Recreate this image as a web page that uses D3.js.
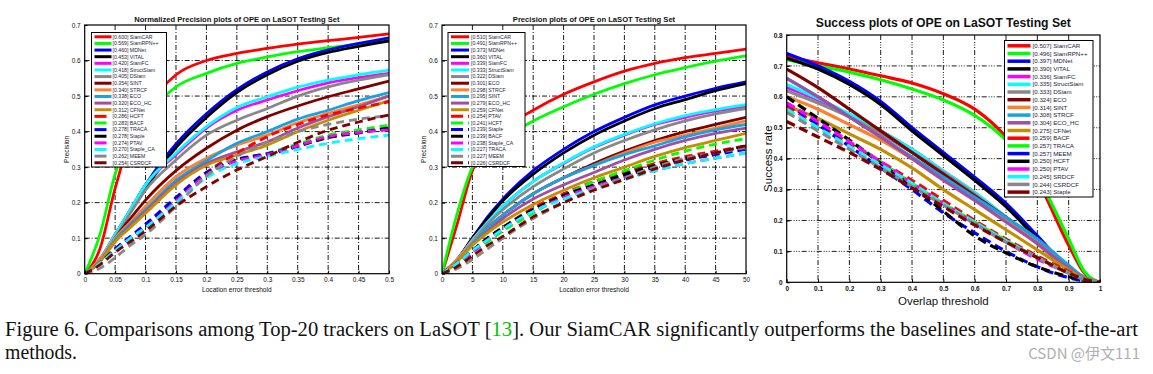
<!DOCTYPE html>
<html>
<head>
<meta charset="utf-8">
<script src="https://cdn.jsdelivr.net/npm/d3@7"></script>
<style>
  body { margin: 0; background: #fff; }
  svg { display: block; }
  text { font-family: "Liberation Sans", Arial, sans-serif; }
  text.serif { font-family: "Liberation Serif", "Times New Roman", serif; }
</style>
</head>
<body>
<svg width="1153" height="374"></svg>
<script>
// colours by rank: 12 solid, then 8 dashed reusing the first 8
const colors = ['#ff0000', '#00ff00', '#0000ff', '#000000', '#ff00ff', '#00ffff', '#888888', '#800000',
  '#ff7f2a', '#17a2e3', '#a14ea4', '#c28f00',
  '#ff0000', '#00ff00', '#0000ff', '#000000', '#ff00ff', '#00ffff', '#888888', '#800000']

// ---- normalized precision (left) ----
const normX = [0, 0.025, 0.05, 0.075, 0.1, 0.15, 0.2, 0.25, 0.3, 0.35, 0.4, 0.45, 0.5]
const normNames = ['SiamCAR', 'SiamRPN++', 'MDNet', 'VITAL', 'SiamFC', 'StructSiam', 'DSiam', 'SINT', 'STRCF', 'ECO',
  'ECO_HC', 'CFNet', 'HCFT', 'BACF', 'TRACA', 'Staple', 'PTAV', 'Staple_CA', 'MEEM', 'CSRDCF']
const normScores = ['0.600', '0.569', '0.460', '0.453', '0.420', '0.418', '0.405', '0.354', '0.340', '0.338',
  '0.320', '0.312', '0.286', '0.283', '0.278', '0.278', '0.274', '0.270', '0.262', '0.254']
const normValues = [
  [0, 0.07, 0.24, 0.38, 0.46, 0.56, 0.60, 0.62, 0.634, 0.646, 0.656, 0.665, 0.675],
  [0, 0.11, 0.28, 0.38, 0.44, 0.526, 0.564, 0.592, 0.61, 0.625, 0.636, 0.646, 0.658],
  [0, 0.04, 0.11, 0.18, 0.25, 0.365, 0.45, 0.518, 0.568, 0.605, 0.63, 0.648, 0.664],
  [0, 0.04, 0.105, 0.175, 0.24, 0.355, 0.44, 0.51, 0.56, 0.598, 0.623, 0.64, 0.655],
  [0, 0.04, 0.11, 0.18, 0.25, 0.335, 0.41, 0.46, 0.489, 0.515, 0.537, 0.552, 0.564],
  [0, 0.04, 0.11, 0.18, 0.25, 0.34, 0.414, 0.468, 0.498, 0.525, 0.545, 0.56, 0.573],
  [0, 0.035, 0.1, 0.17, 0.235, 0.32, 0.39, 0.432, 0.465, 0.5, 0.526, 0.545, 0.56],
  [0, 0.035, 0.1, 0.155, 0.207, 0.29, 0.353, 0.404, 0.442, 0.472, 0.498, 0.52, 0.542],
  [0, 0.04, 0.1, 0.145, 0.19, 0.273, 0.325, 0.362, 0.39, 0.425, 0.451, 0.475, 0.5],
  [0, 0.035, 0.095, 0.14, 0.18, 0.263, 0.318, 0.367, 0.4, 0.435, 0.46, 0.487, 0.51],
  [0, 0.035, 0.09, 0.135, 0.175, 0.255, 0.31, 0.343, 0.371, 0.41, 0.442, 0.47, 0.5],
  [0, 0.035, 0.09, 0.13, 0.17, 0.25, 0.305, 0.334, 0.362, 0.4, 0.432, 0.46, 0.487],
  [0, 0.03, 0.07, 0.1, 0.135, 0.21, 0.285, 0.339, 0.386, 0.42, 0.447, 0.466, 0.484],
  [0, 0.03, 0.067, 0.1, 0.13, 0.207, 0.282, 0.32, 0.339, 0.365, 0.39, 0.405, 0.418],
  [0, 0.03, 0.07, 0.105, 0.14, 0.215, 0.285, 0.322, 0.338, 0.36, 0.384, 0.398, 0.41],
  [0, 0.03, 0.067, 0.1, 0.13, 0.207, 0.28, 0.32, 0.335, 0.358, 0.383, 0.396, 0.41],
  [0, 0.03, 0.065, 0.1, 0.13, 0.205, 0.278, 0.317, 0.335, 0.36, 0.386, 0.398, 0.405],
  [0, 0.03, 0.065, 0.1, 0.13, 0.2, 0.27, 0.31, 0.33, 0.35, 0.367, 0.38, 0.39],
  [0, 0.015, 0.045, 0.08, 0.11, 0.19, 0.275, 0.33, 0.37, 0.4, 0.42, 0.435, 0.445],
  [0, 0.025, 0.06, 0.09, 0.12, 0.19, 0.245, 0.292, 0.33, 0.37, 0.404, 0.427, 0.447]
]

// ---- precision (middle) ----
const precX = [0, 2.5, 5, 7.5, 10, 15, 20, 25, 30, 35, 40, 45, 50]
const precNames = ['SiamCAR', 'SiamRPN++', 'MDNet', 'VITAL', 'SiamFC', 'StructSiam', 'DSiam', 'ECO', 'STRCF', 'SINT',
  'ECO_HC', 'CFNet', 'PTAV', 'HCFT', 'Staple', 'BACF', 'Staple_CA', 'TRACA', 'MEEM', 'CSRDCF']
const precScores = ['0.510', '0.491', '0.373', '0.360', '0.339', '0.333', '0.322', '0.301', '0.298', '0.295',
  '0.279', '0.259', '0.254', '0.241', '0.239', '0.239', '0.238', '0.227', '0.227', '0.226']
const precValues = [
  [0, 0.14, 0.29, 0.36, 0.405, 0.46, 0.505, 0.54, 0.57, 0.592, 0.608, 0.62, 0.632],
  [0, 0.17, 0.3, 0.35, 0.38, 0.43, 0.47, 0.505, 0.535, 0.56, 0.58, 0.598, 0.613],
  [0, 0.04, 0.1, 0.16, 0.21, 0.29, 0.35, 0.4, 0.44, 0.475, 0.5, 0.522, 0.54],
  [0, 0.04, 0.1, 0.155, 0.205, 0.28, 0.34, 0.39, 0.43, 0.465, 0.49, 0.515, 0.535],
  [0, 0.04, 0.095, 0.145, 0.19, 0.26, 0.31, 0.355, 0.39, 0.42, 0.44, 0.458, 0.47],
  [0, 0.04, 0.095, 0.145, 0.19, 0.26, 0.312, 0.357, 0.392, 0.422, 0.445, 0.462, 0.476],
  [0, 0.035, 0.09, 0.14, 0.18, 0.245, 0.295, 0.34, 0.375, 0.405, 0.43, 0.45, 0.465],
  [0, 0.035, 0.085, 0.13, 0.165, 0.225, 0.27, 0.31, 0.345, 0.375, 0.4, 0.42, 0.44],
  [0, 0.04, 0.09, 0.13, 0.165, 0.225, 0.27, 0.305, 0.34, 0.37, 0.39, 0.41, 0.43],
  [0, 0.035, 0.085, 0.13, 0.165, 0.225, 0.27, 0.305, 0.335, 0.36, 0.385, 0.405, 0.42],
  [0, 0.035, 0.08, 0.12, 0.155, 0.21, 0.25, 0.285, 0.32, 0.35, 0.375, 0.395, 0.41],
  [0, 0.035, 0.08, 0.115, 0.145, 0.195, 0.235, 0.27, 0.3, 0.33, 0.355, 0.375, 0.395],
  [0, 0.03, 0.065, 0.1, 0.13, 0.185, 0.225, 0.26, 0.285, 0.31, 0.33, 0.345, 0.36],
  [0, 0.025, 0.06, 0.09, 0.12, 0.17, 0.22, 0.26, 0.29, 0.32, 0.345, 0.365, 0.38],
  [0, 0.03, 0.065, 0.1, 0.13, 0.18, 0.22, 0.25, 0.275, 0.3, 0.32, 0.335, 0.35],
  [0, 0.03, 0.065, 0.1, 0.13, 0.18, 0.22, 0.25, 0.28, 0.305, 0.325, 0.34, 0.36],
  [0, 0.03, 0.06, 0.095, 0.125, 0.175, 0.215, 0.245, 0.27, 0.29, 0.31, 0.325, 0.34],
  [0, 0.03, 0.065, 0.095, 0.125, 0.175, 0.21, 0.24, 0.265, 0.29, 0.31, 0.325, 0.34],
  [0, 0.015, 0.04, 0.07, 0.1, 0.155, 0.2, 0.24, 0.27, 0.3, 0.325, 0.34, 0.355],
  [0, 0.02, 0.05, 0.08, 0.105, 0.16, 0.2, 0.235, 0.265, 0.295, 0.32, 0.34, 0.36]
]

// ---- success (right) ----
const succX = [0, 0.1, 0.2, 0.3, 0.4, 0.5, 0.6, 0.7, 0.8, 0.9, 0.95, 1]
const succNames = ['SiamCAR', 'SiamRPN++', 'MDNet', 'VITAL', 'SiamFC', 'StructSiam', 'DSiam', 'ECO', 'SINT', 'STRCF',
  'ECO_HC', 'CFNet', 'BACF', 'TRACA', 'MEEM', 'HCFT', 'PTAV', 'SRDCF', 'CSRDCF', 'Staple']
const succScores = ['0.507', '0.496', '0.397', '0.390', '0.336', '0.335', '0.333', '0.324', '0.314', '0.308',
  '0.304', '0.275', '0.259', '0.257', '0.257', '0.250', '0.250', '0.245', '0.244', '0.243']
const succValues = [
  [0.73, 0.71, 0.69, 0.668, 0.645, 0.61, 0.56, 0.47, 0.33, 0.12, 0.03, 0],
  [0.72, 0.70, 0.68, 0.655, 0.625, 0.59, 0.54, 0.46, 0.34, 0.14, 0.035, 0],
  [0.74, 0.70, 0.65, 0.585, 0.5, 0.42, 0.34, 0.255, 0.15, 0.045, 0.012, 0],
  [0.725, 0.69, 0.64, 0.575, 0.49, 0.41, 0.33, 0.245, 0.14, 0.04, 0.01, 0],
  [0.63, 0.59, 0.54, 0.49, 0.43, 0.36, 0.29, 0.21, 0.13, 0.045, 0.015, 0],
  [0.64, 0.595, 0.545, 0.49, 0.43, 0.36, 0.29, 0.21, 0.13, 0.045, 0.015, 0],
  [0.62, 0.58, 0.535, 0.48, 0.42, 0.355, 0.285, 0.205, 0.125, 0.04, 0.012, 0],
  [0.69, 0.63, 0.56, 0.49, 0.42, 0.35, 0.28, 0.21, 0.135, 0.05, 0.015, 0],
  [0.6, 0.56, 0.51, 0.46, 0.4, 0.335, 0.27, 0.2, 0.13, 0.05, 0.015, 0],
  [0.66, 0.6, 0.535, 0.47, 0.405, 0.34, 0.275, 0.21, 0.14, 0.055, 0.015, 0],
  [0.66, 0.6, 0.535, 0.47, 0.4, 0.33, 0.265, 0.195, 0.125, 0.045, 0.013, 0],
  [0.57, 0.53, 0.48, 0.43, 0.37, 0.3, 0.235, 0.17, 0.105, 0.04, 0.012, 0],
  [0.57, 0.51, 0.45, 0.39, 0.33, 0.265, 0.2, 0.14, 0.085, 0.035, 0.01, 0],
  [0.6, 0.53, 0.46, 0.39, 0.32, 0.255, 0.195, 0.135, 0.08, 0.03, 0.01, 0],
  [0.58, 0.51, 0.44, 0.37, 0.3, 0.225, 0.16, 0.1, 0.05, 0.015, 0.005, 0],
  [0.6, 0.53, 0.46, 0.385, 0.31, 0.23, 0.15, 0.095, 0.05, 0.018, 0.006, 0],
  [0.58, 0.52, 0.455, 0.39, 0.32, 0.255, 0.19, 0.13, 0.075, 0.03, 0.01, 0],
  [0.56, 0.5, 0.44, 0.38, 0.32, 0.255, 0.195, 0.135, 0.08, 0.03, 0.01, 0],
  [0.55, 0.49, 0.43, 0.37, 0.31, 0.25, 0.19, 0.13, 0.08, 0.03, 0.01, 0],
  [0.52, 0.47, 0.42, 0.365, 0.305, 0.245, 0.185, 0.13, 0.08, 0.03, 0.01, 0]
]

const svg = d3.select('svg')

function drawPanel(p) {
  const x = d3.scaleLinear().domain(p.xDomain).range([p.left, p.right])
  const y = d3.scaleLinear().domain(p.yDomain).range([p.bottom, p.top])
  const g = svg.append('g')
  const clipId = 'clip' + p.id

  g.append('clipPath').attr('id', clipId)
    .append('rect')
    .attr('x', p.left).attr('y', p.top)
    .attr('width', p.right - p.left).attr('height', p.bottom - p.top)

  // grid
  const grid = g.append('g').attr('stroke', '#000').attr('stroke-width', 0.9)
    .attr('stroke-dasharray', p.gridDash)
  grid.selectAll('.gx').data(p.xTicks.slice(1, -1)).enter().append('line')
    .attr('x1', d => x(d)).attr('x2', d => x(d))
    .attr('y1', p.top).attr('y2', p.bottom)
  grid.selectAll('.gy').data(p.yTicks.slice(1, -1)).enter().append('line')
    .attr('y1', d => y(d)).attr('y2', d => y(d))
    .attr('x1', p.left).attr('x2', p.right)

  // curves
  const line = d3.line()
    .x((d, i) => x(p.xs[i]))
    .y(d => y(d))
    .curve(d3.curveMonotoneX)
  const curves = g.append('g').attr('clip-path', `url(#${clipId})`)
  p.values.forEach((vals, i) => {
    curves.append('path')
      .attr('d', line(vals))
      .attr('fill', 'none')
      .attr('stroke', colors[i])
      .attr('stroke-width', p.lineWidth)
      .attr('stroke-dasharray', i >= 12 ? p.curveDash : null)
  })

  // axes (MATLAB style inward ticks)
  const xAxis = d3.axisBottom(x).tickValues(p.xTicks).tickSize(-3).tickPadding(4).tickFormat(p.xFormat)
  const yAxis = d3.axisLeft(y).tickValues(p.yTicks).tickSize(-3).tickPadding(4).tickFormat(p.yFormat)
  const xAxisG = g.append('g').attr('transform', `translate(0,${p.bottom})`).call(xAxis)
  const yAxisG = g.append('g').attr('transform', `translate(${p.left},0)`).call(yAxis)
  ;[xAxisG, yAxisG].forEach(a => {
    a.select('.domain').remove()
    a.selectAll('.tick line').attr('stroke', '#000')
    a.selectAll('.tick text').attr('font-size', p.tickSize).attr('fill', '#111')
      .attr('font-weight', p.tickWeight)
  })
  g.append('rect')
    .attr('x', p.left).attr('y', p.top)
    .attr('width', p.right - p.left).attr('height', p.bottom - p.top)
    .attr('fill', 'none').attr('stroke', '#000').attr('stroke-width', 1.2)

  // titles
  g.append('text')
    .attr('x', (p.left + p.right) / 2).attr('y', p.titleY)
    .attr('text-anchor', 'middle').attr('font-weight', 'bold')
    .attr('font-size', p.titleSize).attr('fill', '#111')
    .text(p.title)
  g.append('text')
    .attr('x', (p.left + p.right) / 2).attr('y', p.xLabelY)
    .attr('text-anchor', 'middle').attr('font-size', p.labelSize).attr('fill', '#111')
    .text(p.xLabel)
  g.append('text')
    .attr('transform', `translate(${p.yLabelX},${(p.top + p.bottom) / 2}) rotate(-90)`)
    .attr('text-anchor', 'middle').attr('font-size', p.labelSize).attr('fill', '#111')
    .text(p.yLabel)

  // legend
  const L = p.legend
  const leg = g.append('g')
  leg.append('rect')
    .attr('x', L.x).attr('y', L.y).attr('width', L.w).attr('height', L.h)
    .attr('fill', '#fff').attr('stroke', '#000').attr('stroke-width', 1)
  const row = leg.selectAll('.row').data(p.names).enter().append('g')
    .attr('transform', (d, i) => `translate(${L.x},${L.first + i * L.step})`)
  row.append('line')
    .attr('x1', L.l1).attr('x2', L.l2).attr('y1', 0).attr('y2', 0)
    .attr('stroke', (d, i) => colors[i])
    .attr('stroke-width', L.lw)
    .attr('stroke-dasharray', (d, i) => i >= 12 ? L.dash : null)
  row.append('text')
    .attr('x', L.tx).attr('y', 0).attr('dy', '0.35em')
    .attr('font-size', L.fs).attr('fill', '#1c1c3a')
    .text((d, i) => `[${p.scores[i]}] ${d}`)
}

const fmt = d => d === 0 ? '0' : String(+d.toFixed(2))

drawPanel({
  id: 'norm', left: 84.7, right: 389, top: 25, bottom: 273.7,
  xDomain: [0, 0.5], yDomain: [0, 0.7],
  xTicks: d3.range(0, 0.501, 0.05).map(v => +v.toFixed(2)), yTicks: d3.range(0, 0.701, 0.1).map(v => +v.toFixed(1)),
  xFormat: fmt, yFormat: fmt, tickSize: 6.5, tickWeight: 'normal',
  xs: normX, values: normValues, names: normNames, scores: normScores,
  gridDash: '5,2,1,2', curveDash: '8,5', lineWidth: 2.8,
  title: 'Normalized Precision plots of OPE on LaSOT Testing Set', titleY: 22, titleSize: 7.6,
  xLabel: 'Location error threshold', xLabelY: 292, yLabel: 'Precision', yLabelX: 69, labelSize: 6.6,
  legend: { x: 91.5, y: 32.5, w: 75, h: 134.5, first: 36.8, step: 6.63, l1: 3, l2: 20, tx: 21, lw: 3, fs: 5.2, dash: '12,5' }
})

drawPanel({
  id: 'prec', left: 442, right: 746, top: 25, bottom: 273.7,
  xDomain: [0, 50], yDomain: [0, 0.7],
  xTicks: d3.range(0, 51, 5), yTicks: d3.range(0, 0.701, 0.1).map(v => +v.toFixed(1)),
  xFormat: d => String(d), yFormat: fmt, tickSize: 6.5, tickWeight: 'normal',
  xs: precX, values: precValues, names: precNames, scores: precScores,
  gridDash: '5,2,1,2', curveDash: '8,5', lineWidth: 2.8,
  title: 'Precision plots of OPE on LaSOT Testing Set', titleY: 22, titleSize: 7.6,
  xLabel: 'Location error threshold', xLabelY: 292, yLabel: 'Precision', yLabelX: 426, labelSize: 6.6,
  legend: { x: 448, y: 32.5, w: 77, h: 134, first: 36.8, step: 6.63, l1: 3, l2: 21, tx: 23, lw: 3, fs: 5.2, dash: '12,5' }
})

drawPanel({
  id: 'succ', left: 786.7, right: 1100, top: 35, bottom: 282.3,
  xDomain: [0, 1], yDomain: [0, 0.8],
  xTicks: d3.range(0, 1.001, 0.1).map(v => +v.toFixed(1)), yTicks: d3.range(0, 0.801, 0.1).map(v => +v.toFixed(1)),
  xFormat: fmt, yFormat: fmt, tickSize: 6.5, tickWeight: 'bold',
  xs: succX, values: succValues, names: succNames, scores: succScores,
  gridDash: '5,2,1,1.5,1,1.5,1,2', curveDash: '9,5', lineWidth: 3.2,
  title: 'Success plots of OPE on LaSOT Testing Set', titleY: 27, titleSize: 12.2,
  xLabel: 'Overlap threshold', xLabelY: 305, yLabel: 'Success rate', yLabelX: 772, labelSize: 11.5,
  legend: { x: 1004.5, y: 40.5, w: 88.5, h: 156.5, first: 45.8, step: 7.7, l1: 3, l2: 26, tx: 28, lw: 3.5, fs: 6.2, dash: '22,3' }
})

// caption (condensed Times-like serif)
const line1 = svg.append('text').attr('class', 'serif').attr('x', 5).attr('y', 336)
  .attr('font-size', 20).attr('fill', '#111')
  .attr('textLength', 1133).attr('lengthAdjust', 'spacingAndGlyphs')
line1.append('tspan').text('Figure 6.  Comparisons among Top-20 trackers on LaSOT [')
line1.append('tspan').attr('fill', '#00c000').text('13')
line1.append('tspan').text('].  Our SiamCAR significantly outperforms the baselines and state-of-the-art')
svg.append('text').attr('class', 'serif').attr('x', 5).attr('y', 359)
  .attr('font-size', 20).attr('fill', '#111')
  .attr('textLength', 72).attr('lengthAdjust', 'spacingAndGlyphs')
  .text('methods.')

svg.append('text').attr('x', 1140).attr('y', 359).attr('text-anchor', 'end')
  .attr('font-size', 15).attr('fill', '#b0b0b0')
  .style('font-family', '"Noto Sans CJK SC", "Liberation Sans", sans-serif')
  .text('CSDN @伊文111')
</script>
</body>
</html>
